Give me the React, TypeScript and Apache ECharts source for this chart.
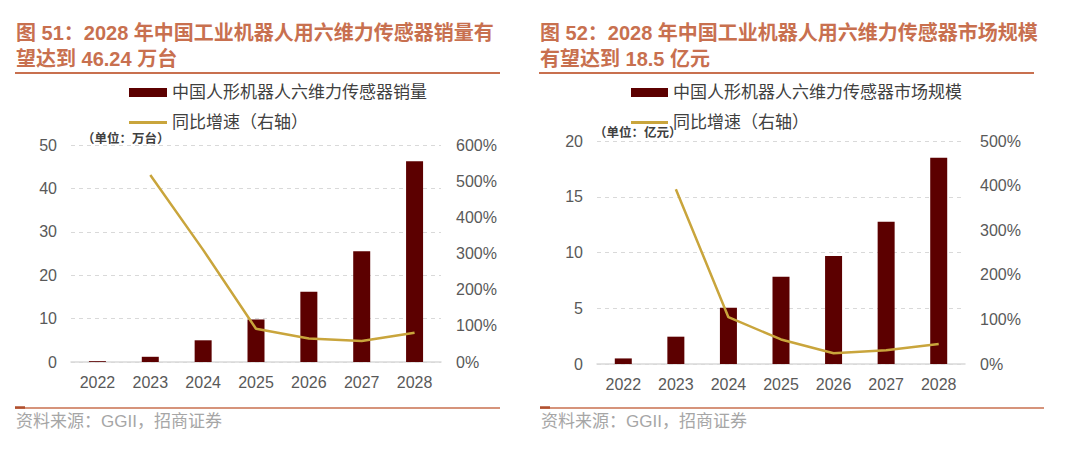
import React, { useEffect, useRef } from "react";
import * as echarts from "echarts";

const years = ["2022", "2023", "2024", "2025", "2026", "2027", "2028"];
const salesVolume = [0.19, 1.2, 5.0, 9.8, 16.2, 25.5, 46.24];
const salesGrowth = [null, 517, 310, 92, 65, 58, 81];
const marketSize = [0.5, 2.45, 5.05, 7.83, 9.69, 12.76, 18.5];
const marketGrowth = [null, 392, 105, 55, 24, 31, 45];
const leftTicks = { min: 0, max: 50, interval: 10 };
const leftPctTicks = { min: 0, max: 600, interval: 100 };
const rightTicks = { min: 0, max: 20, interval: 5 };
const rightPctTicks = { min: 0, max: 500, interval: 100 };

const TITLE = "#C8704F";
const BAR = "#5C0000";
const LINE = "#C9A53C";
const AXIS_TXT = "#595959";
const GRID = "#D9D9D9";
const LATIN = "'Liberation Sans', Arial, 'Noto Sans CJK SC', sans-serif";
const CJK = "'Liberation Sans', 'Noto Sans CJK SC', sans-serif";

export default function App() {
  const ref = useRef<HTMLDivElement>(null);
  useEffect(() => {
    document.body.style.margin = "0";
    const chart = echarts.init(ref.current!, undefined, { renderer: "svg" });
    const xAxisBase = (gridIndex: number) => ({
      type: "category",
      gridIndex,
      data: years,
      axisTick: { show: false },
      axisLine: { lineStyle: { color: GRID, width: 1.5 } },
      axisLabel: { color: AXIS_TXT, fontSize: 16, fontFamily: LATIN, margin: 12 },
    });
    const yLeft = (gridIndex: number, t: any) => ({
      type: "value",
      gridIndex,
      ...t,
      axisLine: { show: false },
      axisTick: { show: false },
      axisLabel: { color: AXIS_TXT, fontSize: 16, fontFamily: LATIN, margin: 14 },
      splitLine: { lineStyle: { color: GRID, type: [4, 4], width: 1 } },
    });
    const yRight = (gridIndex: number, t: any) => ({
      type: "value",
      gridIndex,
      position: "right",
      ...t,
      axisLine: { show: false },
      axisTick: { show: false },
      axisLabel: { color: AXIS_TXT, fontSize: 16, fontFamily: LATIN, margin: 15, formatter: "{value}%" },
      splitLine: { show: false },
    });
    const legendText = { color: "#404040", fontSize: 17, fontFamily: CJK };
    const titleStyle = (text: string) => ({
      text,
      fill: TITLE,
      font: `bold 20px ${CJK}`,
      verticalAlign: "middle",
    });
    const option: any = {
      animation: false,
      backgroundColor: "#fff",
      grid: [
        { left: 71, right: 639, top: 145, bottom: 87 },
        { left: 597, right: 115, top: 141, bottom: 85 },
      ],
      xAxis: [xAxisBase(0), xAxisBase(1)],
      yAxis: [yLeft(0, leftTicks), yRight(0, leftPctTicks), yLeft(1, rightTicks), yRight(1, rightPctTicks)],
      legend: [
        {
          left: 124, top: 79, itemWidth: 38, itemHeight: 9, icon: "rect",
          data: ["中国人形机器人六维力传感器销量"], textStyle: legendText,
        },
        {
          left: 124, top: 109, itemWidth: 38, itemHeight: 3, icon: "rect",
          data: ["同比增速（右轴）"], textStyle: legendText,
        },
        {
          left: 626, top: 79, itemWidth: 37, itemHeight: 9, icon: "rect",
          data: ["中国人形机器人六维力传感器市场规模"], textStyle: legendText,
        },
        {
          left: 626, top: 109, itemWidth: 37, itemHeight: 3, icon: "rect",
          data: [{ name: "同比增速（右轴） " }], textStyle: legendText,
        },
      ],
      series: [
        {
          name: "中国人形机器人六维力传感器销量", type: "bar", xAxisIndex: 0, yAxisIndex: 0,
          data: salesVolume, barWidth: 17, itemStyle: { color: BAR },
        },
        {
          name: "同比增速（右轴）", type: "line", xAxisIndex: 0, yAxisIndex: 1,
          data: salesGrowth, symbol: "none", connectNulls: false,
          lineStyle: { color: LINE, width: 2.5 }, itemStyle: { color: LINE },
        },
        {
          name: "中国人形机器人六维力传感器市场规模", type: "bar", xAxisIndex: 1, yAxisIndex: 2,
          data: marketSize, barWidth: 17, itemStyle: { color: BAR },
        },
        {
          name: "同比增速（右轴） ", type: "line", xAxisIndex: 1, yAxisIndex: 3,
          data: marketGrowth, symbol: "none",
          lineStyle: { color: LINE, width: 2.5 }, itemStyle: { color: LINE },
        },
      ],
      graphic: [
        { type: "text", x: 16, y: 33, style: titleStyle("图 51：2028 年中国工业机器人用六维力传感器销量有") },
        { type: "text", x: 16, y: 59, style: titleStyle("望达到 46.24 万台") },
        { type: "line", shape: { x1: 15, y1: 73, x2: 500, y2: 73 }, style: { stroke: TITLE, lineWidth: 2 } },
        { type: "text", x: 540, y: 33, style: titleStyle("图 52：2028 年中国工业机器人用六维力传感器市场规模") },
        { type: "text", x: 540, y: 59, style: titleStyle("有望达到 18.5 亿元") },
        { type: "line", shape: { x1: 539, y1: 73, x2: 1034, y2: 73 }, style: { stroke: TITLE, lineWidth: 2 } },
        {
          type: "text", x: 82, y: 139,
          style: { text: "（单位：万台）", fill: "#404040", font: `bold 12.5px ${CJK}`, verticalAlign: "middle" },
        },
        {
          type: "text", x: 594, y: 133,
          style: { text: "（单位：亿元）", fill: "#404040", font: `bold 12.5px ${CJK}`, verticalAlign: "middle" },
        },
        { type: "line", shape: { x1: 15, y1: 408, x2: 500, y2: 408 }, style: { stroke: TITLE, lineWidth: 1.5 } },
        { type: "line", shape: { x1: 15, y1: 407.5, x2: 25, y2: 407.5 }, style: { stroke: "#B0502F", lineWidth: 2.5 } },
        { type: "line", shape: { x1: 540, y1: 408, x2: 1044, y2: 408 }, style: { stroke: TITLE, lineWidth: 1.5 } },
        { type: "line", shape: { x1: 540, y1: 407.5, x2: 550, y2: 407.5 }, style: { stroke: "#B0502F", lineWidth: 2.5 } },
        {
          type: "text", x: 16, y: 421,
          style: { text: "资料来源：GGII，招商证券", fill: "#A6A6A6", font: `17px ${CJK}`, verticalAlign: "middle" },
        },
        {
          type: "text", x: 541, y: 421,
          style: { text: "资料来源：GGII，招商证券", fill: "#A6A6A6", font: `17px ${CJK}`, verticalAlign: "middle" },
        },
      ],
    };
    chart.setOption(option);
    return () => chart.dispose();
  }, []);
  return (
    <div
      ref={ref}
      style={{ position: "absolute", left: 0, top: 0, width: 1080, height: 449 }}
    />
  );
}
